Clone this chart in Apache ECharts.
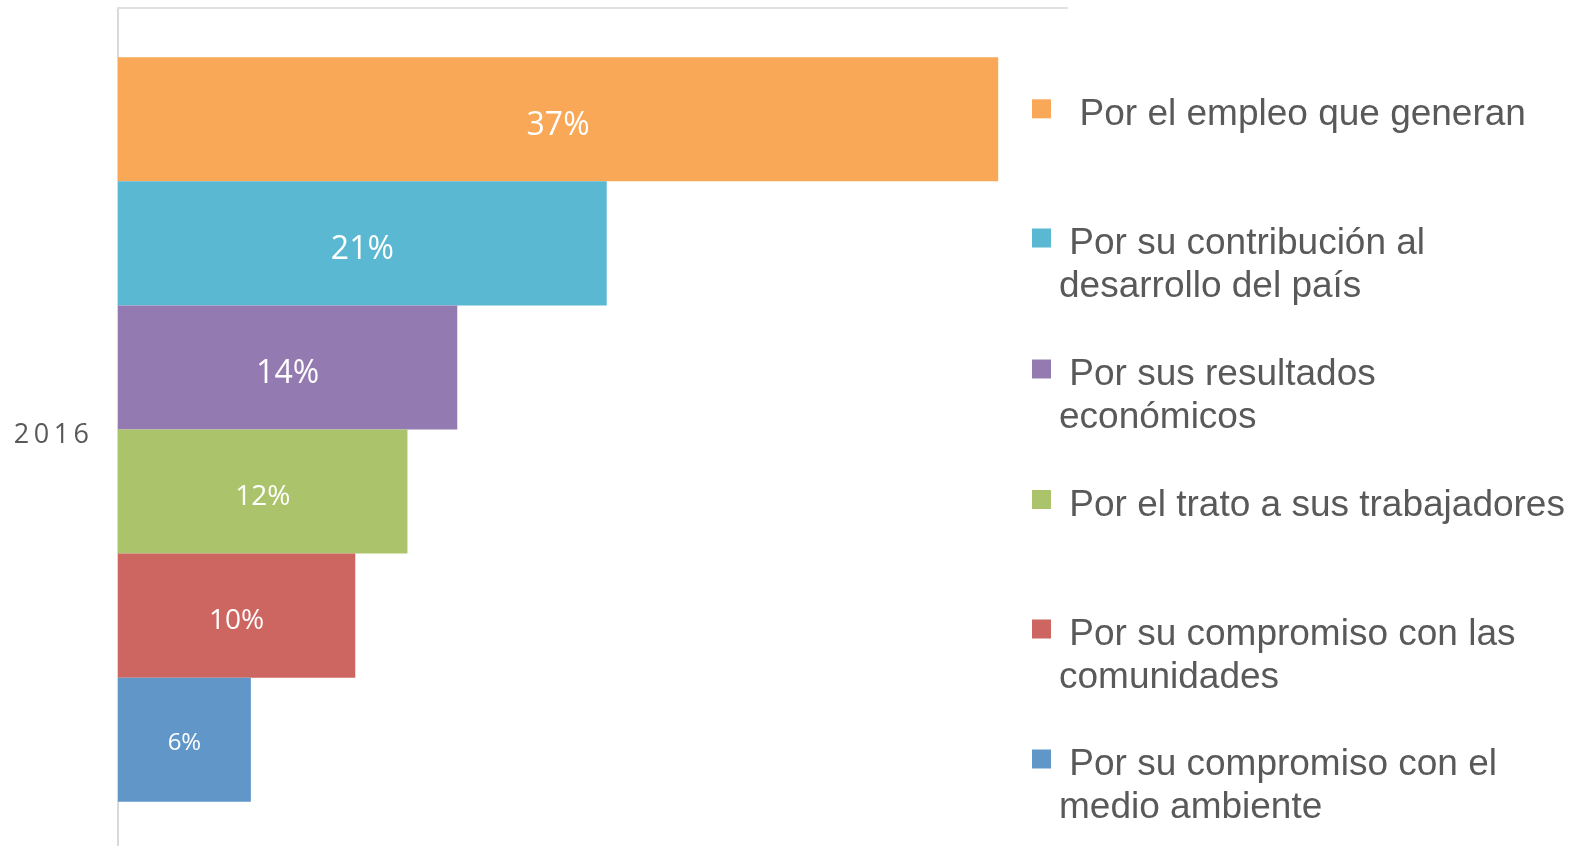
<!DOCTYPE html>
<html lang="es">
<head>
    <meta charset="UTF-8">
    <title>2016</title>
    <script src="https://cdn.jsdelivr.net/npm/echarts@6/dist/echarts.min.js"></script>
    <style>
        html, body {
            margin: 0;
            padding: 0;
            background: #fff;
        }
        #chart {
            width: 1573px;
            height: 846px;
        }
    </style>
</head>
<body>
<div id="chart"></div>
<script>
    // datos
    var categories = ['2016'];
    var seriesNames = [
        'Por el empleo que generan',
        'Por su contribución al desarrollo del país',
        'Por sus resultados económicos',
        'Por el trato a sus trabajadores',
        'Por su compromiso con las comunidades',
        'Por su compromiso con el medio ambiente'
    ];
    var seriesValues = [37.1, 20.6, 14.3, 12.2, 10.0, 5.6];

    // texto de la leyenda tal como se corta en el original
    var legendLines = [
        ['  Por el empleo que generan'],
        [' Por su contribución al', 'desarrollo del país'],
        [' Por sus resultados', 'económicos'],
        [' Por el trato a sus trabajadores'],
        [' Por su compromiso con las', 'comunidades'],
        [' Por su compromiso con el', 'medio ambiente']
    ];

    var colors = ['#F9A857', '#5BB8D2', '#937AB0', '#ABC46C', '#CD6660', '#6196C9'];
    var labelSizes = [32, 32, 32, 28, 28, 24];
    var labelOffsets = [7, 7, 6, 5, 5, 3];
    var legendTops = [86.8, 194.5, 325.5, 477.5, 585.5, 715.5];

    // una linea vacia arriba baja el texto respecto al icono
    function legendFormat(lines) {
        var spacer = lines.length > 1 ? '{s2| }' : '{s1| }';
        return [spacer].concat(lines.map(function (l) {
            return '{t|' + l + '}';
        })).join('\n');
    }

    var legends = seriesNames.map(function (name, i) {
        return {
            data: [name],
            left: 1032,
            top: legendTops[i],
            padding: 0,
            selectedMode: false,
            icon: 'rect',
            itemWidth: 19,
            itemHeight: 19,
            formatter: function () {
                return legendFormat(legendLines[i]);
            },
            textStyle: {
                color: '#595959',
                fontFamily: 'Liberation Sans',
                fontSize: 37,
                rich: {
                    t: {
                        color: '#595959',
                        fontFamily: 'Liberation Sans',
                        fontSize: 37,
                        lineHeight: 43,
                        padding: [0, 0, 0, 3]
                    },
                    s1: {fontSize: 1, lineHeight: 12},
                    s2: {fontSize: 1, lineHeight: 55}
                }
            }
        };
    });

    var series = seriesNames.map(function (name, i) {
        return {
            name: name,
            type: 'bar',
            data: [seriesValues[i]],
            barGap: '0%',
            barWidth: 124.1,
            itemStyle: {
                color: colors[i]
            },
            label: {
                show: true,
                position: 'inside',
                offset: [0, labelOffsets[i]],
                color: '#fff',
                fontFamily: 'Open Sans',
                fontSize: labelSizes[i],
                formatter: function (p) {
                    return Math.round(p.value) + '%';
                }
            },
            emphasis: {
                disabled: true
            }
        };
    });

    var option = {
        backgroundColor: '#fff',
        animation: false,
        legend: legends,
        grid: {
            left: 118,
            top: 8,
            width: 949,
            height: 843,
            outerBoundsMode: 'none'
        },
        xAxis: {
            type: 'value',
            position: 'top',
            min: 0,
            max: 40,
            axisLine: {
                show: true,
                lineStyle: {
                    color: '#e0e0e0',
                    width: 2
                }
            },
            axisTick: {show: false},
            axisLabel: {show: false},
            splitLine: {show: false}
        },
        yAxis: {
            type: 'category',
            data: categories,
            axisLine: {
                show: true,
                lineStyle: {
                    color: '#d9d9d9',
                    width: 2
                }
            },
            axisTick: {show: false},
            axisLabel: {
                margin: 29,
                verticalAlign: 'top',
                lineHeight: 12,
                color: '#595959',
                fontFamily: 'Open Sans',
                fontSize: 27,
                formatter: function (v) {
                    return v.split('').join('\u2009');
                }
            }
        },
        series: series
    };

    var myChart = echarts.init(document.getElementById('chart'));
    myChart.setOption(option);
</script>
</body>
</html>
